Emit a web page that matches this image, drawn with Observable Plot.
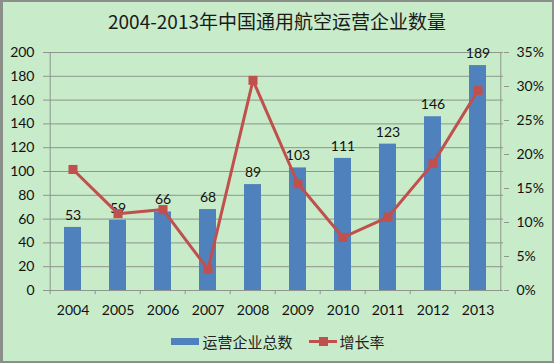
<!DOCTYPE html>
<html>
<head>
<meta charset="utf-8">
<script src="https://cdn.jsdelivr.net/npm/d3@7"></script>
<script src="https://cdn.jsdelivr.net/npm/@observablehq/plot@0.6"></script>
<style>
  html, body { margin: 0; padding: 0; }
  #chart { position: relative; width: 554px; height: 363px; background: #c8ebca; overflow: hidden; font-family: Lato, "Noto Sans CJK SC", sans-serif; }
  #title { height: 40px; line-height: 42px; text-align: center; font-family: "Noto Sans CJK SC", sans-serif; font-size: 19px; color: #1a1a1a; }
  #legend { height: 32px; display: flex; justify-content: center; align-items: center; font-family: "Noto Sans CJK SC", sans-serif; font-size: 15px; color: #222; padding-left: 2px; }
  #legend .item { display: flex; align-items: center; margin: 0 8px; }
  #legend .sw-bar { width: 28px; height: 7px; background: #4f81bd; margin-right: 3px; }
  #legend .sw-line { position: relative; width: 28px; height: 3px; background: #c0504d; margin-right: 3px; }
  #legend .sw-line::after { content: ""; position: absolute; left: 10px; top: -3px; width: 9px; height: 9px; background: #c0504d; }
  #border { position: absolute; left: 0; top: 0; width: 554px; height: 363px; box-sizing: border-box; border: 2px solid #8a8f8a; border-left-width: 3px; pointer-events: none; }
  svg { display: block; }
</style>
</head>
<body>
<div id="chart">
  <div id="title">2004-2013年中国通用航空运营企业数量</div>
  <div id="plot"></div>
  <div id="legend">
    <div class="item"><div class="sw-bar"></div><span>运营企业总数</span></div>
    <div class="item"><div class="sw-line"></div><span>增长率</span></div>
  </div>
  <div id="border"></div>
</div>
<script>
const years = ["2004","2005","2006","2007","2008","2009","2010","2011","2012","2013"];
const counts = [53, 59, 66, 68, 89, 103, 111, 123, 146, 189];
const growthPct = [17.8, 11.3, 11.9, 3.1, 30.9, 15.7, 7.8, 10.8, 18.7, 29.4];
const leftTicks = [0, 20, 40, 60, 80, 100, 120, 140, 160, 180, 200];
const rightTicks = [0, 5, 10, 15, 20, 25, 30, 35];

const yMax = 200, pMax = 35;
const toY = p => p * yMax / pMax;

const data = years.map((year, i) => ({year, count: counts[i], growth: toY(growthPct[i])}));

const blue = "#4f81bd", red = "#c0504d", grid = "#8c968c";
const W = 554, H = 285, mL = 47, mR = 51;
const step = (W - mL - mR) / years.length;

const plot = Plot.plot({
  width: W,
  height: H,
  marginLeft: mL,
  marginRight: mR,
  marginTop: 12,
  marginBottom: 35,
  style: {background: "transparent", fontFamily: "Lato, sans-serif", fontSize: "14px", color: "#111"},
  x: {domain: years, paddingInner: 0.62, paddingOuter: 0.31, label: null},
  y: {domain: [0, yMax], label: null},
  marks: [
    Plot.gridY(leftTicks, {stroke: grid, strokeOpacity: 1}),
    Plot.ruleX([years[0]], {x: d => d, y1: 0, y2: yMax, dx: -step / 2, stroke: grid}),
    Plot.ruleX([years[years.length - 1]], {x: d => d, y1: 0, y2: yMax, dx: step / 2, stroke: grid}),
    Plot.ruleX(years, {x: d => d, y1: 0, y2: -3.5, dx: -step / 2, stroke: grid}),
    Plot.barY(data, {x: "year", y: "count", fill: blue}),
    Plot.text(data, {x: "year", y: "count", text: d => String(d.count), dy: -12, fontSize: 14, fill: "#111"}),
    Plot.line(data, {x: "year", y: "growth", stroke: red, strokeWidth: 3}),
    Plot.dot(data, {x: "year", y: "growth", symbol: "square", r: 5.1, fill: red, stroke: null}),
    Plot.axisY(leftTicks, {anchor: "left", tickSize: 4, tickPadding: 9, stroke: grid, fontSize: 14, label: null}),
    Plot.axisY(rightTicks.map(toY), {anchor: "right", tickSize: 5, tickPadding: 8, stroke: grid, fontSize: 14, label: null,
      tickFormat: v => Math.round(v * pMax / yMax) + "%"}),
    Plot.axisX({tickSize: 0, tickPadding: 15, fontSize: 14, label: null}),
    Plot.ruleY([0], {stroke: grid})
  ]
});
document.getElementById("plot").appendChild(plot);
</script>
</body>
</html>
